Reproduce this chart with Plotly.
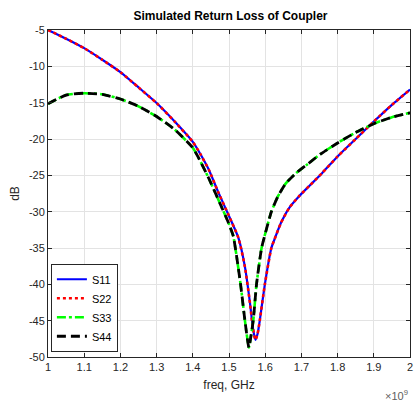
import plotly.graph_objects as go

freq_s11 = [1.00, 1.05, 1.10, 1.15, 1.20, 1.25, 1.30, 1.35, 1.40, 1.42, 1.444, 1.471, 1.50, 1.526,
            1.544, 1.558, 1.566, 1.573, 1.579, 1.585, 1.599, 1.617, 1.625, 1.643, 1.666, 1.693,
            1.725, 1.757, 1.80, 1.85, 1.90, 1.95, 2.00]
s11 = [-5.0, -6.2, -7.5, -9.1, -10.8, -12.9, -15.05, -17.6, -20.4, -22.0, -24.2, -27.4, -30.6, -33.6,
       -37.6, -42.6, -46.0, -47.65, -46.8, -45.0, -40.0, -35.0, -33.9, -31.6, -29.5, -27.9,
       -26.3, -24.7, -22.4, -20.0, -17.6, -15.3, -13.2]
s22 = [-5.0, -6.2, -7.5, -9.1, -10.8, -12.9, -15.05, -17.6, -20.4, -22.0, -24.2, -27.4, -30.6, -33.6,
       -37.6, -42.6, -46.0, -47.65, -46.8, -45.0, -40.0, -35.0, -33.9, -31.6, -29.5, -27.9,
       -26.3, -24.7, -22.4, -20.0, -17.6, -15.3, -13.2]

freq_s33 = [1.00, 1.05, 1.10, 1.15, 1.20, 1.25, 1.30, 1.35, 1.40, 1.416, 1.444, 1.471, 1.499, 1.512,
            1.532, 1.544, 1.555, 1.561, 1.567, 1.576, 1.590, 1.604, 1.617, 1.635, 1.657, 1.685,
            1.716, 1.752, 1.80, 1.85, 1.90, 1.95, 2.00]
s33 = [-15.15, -13.95, -13.7, -13.85, -14.5, -15.5, -16.9, -18.7, -21.2, -22.6, -25.4, -28.4, -31.6, -33.4,
       -40.0, -45.0, -48.7, -47.0, -45.0, -40.0, -35.0, -32.3, -30.0, -27.9, -26.1, -24.7,
       -23.5, -22.1, -20.55, -19.1, -17.9, -17.0, -16.4]
s44 = [-15.15, -13.95, -13.7, -13.85, -14.5, -15.5, -16.9, -18.7, -21.2, -22.6, -25.4, -28.4, -31.6, -33.4,
       -40.0, -45.0, -48.7, -47.0, -45.0, -40.0, -35.0, -32.3, -30.0, -27.9, -26.1, -24.7,
       -23.5, -22.1, -20.55, -19.1, -17.9, -17.0, -16.4]

x_ticks = [1.0, 1.1, 1.2, 1.3, 1.4, 1.5, 1.6, 1.7, 1.8, 1.9, 2.0]
x_tick_text = ["1", "1.1", "1.2", "1.3", "1.4", "1.5", "1.6", "1.7", "1.8", "1.9", "2"]
y_ticks = [-50, -45, -40, -35, -30, -25, -20, -15, -10, -5]
y_tick_text = ["-50", "-45", "-40", "-35", "-30", "-25", "-20", "-15", "-10", "-5"]

FONT = "Liberation Sans, Arial, sans-serif"

fig = go.Figure()
fig.add_trace(go.Scatter(x=freq_s11, y=s11, name="S11", mode="lines",
                         line=dict(color="#0000ff", width=2.2, shape="spline", smoothing=0.5)))
fig.add_trace(go.Scatter(x=freq_s11, y=s22, name="S22", mode="lines",
                         line=dict(color="#ff0000", width=2.6, dash="3px,3px", shape="spline", smoothing=0.5)))
fig.add_trace(go.Scatter(x=freq_s33, y=s33, name="S33", mode="lines",
                         line=dict(color="#00ff00", width=2.6, dash="9px,3px,3px,3px", shape="spline", smoothing=0.5)))
fig.add_trace(go.Scatter(x=freq_s33, y=s44, name="S44", mode="lines",
                         line=dict(color="#000000", width=2.8, dash="9px,5px", shape="spline", smoothing=0.5)))

axis_common = dict(
    showline=True, linecolor="#262626", linewidth=1, mirror="ticks",
    ticks="inside", ticklen=4, tickcolor="#262626",
    showgrid=True, gridcolor="#e3e3e3", gridwidth=1,
    zeroline=False,
    tickfont=dict(family=FONT, size=11, color="#262626"),
)

fig.update_layout(
    width=418, height=406,
    margin=dict(l=48, r=5, t=30, b=49),
    paper_bgcolor="white", plot_bgcolor="white",
    font=dict(family=FONT, color="#262626"),
    title=dict(text="<b>Simulated Return Loss of Coupler</b>",
               font=dict(family=FONT, size=12, color="#000000"),
               x=0.5515, xanchor="center", y=0.96, yanchor="middle"),
    xaxis=dict(range=[1.0, 2.0], tickvals=x_ticks, ticktext=x_tick_text,
               title=dict(text="freq, GHz", font=dict(family=FONT, size=12, color="#262626"), standoff=8),
               **axis_common),
    yaxis=dict(range=[-50, -5], tickvals=y_ticks, ticktext=y_tick_text,
               title=dict(text="dB", font=dict(family=FONT, size=12, color="#262626"), standoff=6),
               **axis_common),
    legend=dict(x=0.008, y=0.016, xanchor="left", yanchor="bottom",
                bgcolor="white", bordercolor="#262626", borderwidth=1,
                font=dict(family=FONT, size=11, color="#000000"),
                itemwidth=30, tracegroupgap=0),
    showlegend=True,
)

fig.add_annotation(text="×10<sup>9</sup>", xref="paper", yref="paper",
                   x=1.0, y=-0.115, xanchor="right", yanchor="middle", showarrow=False,
                   font=dict(family=FONT, size=11, color="#606060"))

fig.write_html("out.html")
